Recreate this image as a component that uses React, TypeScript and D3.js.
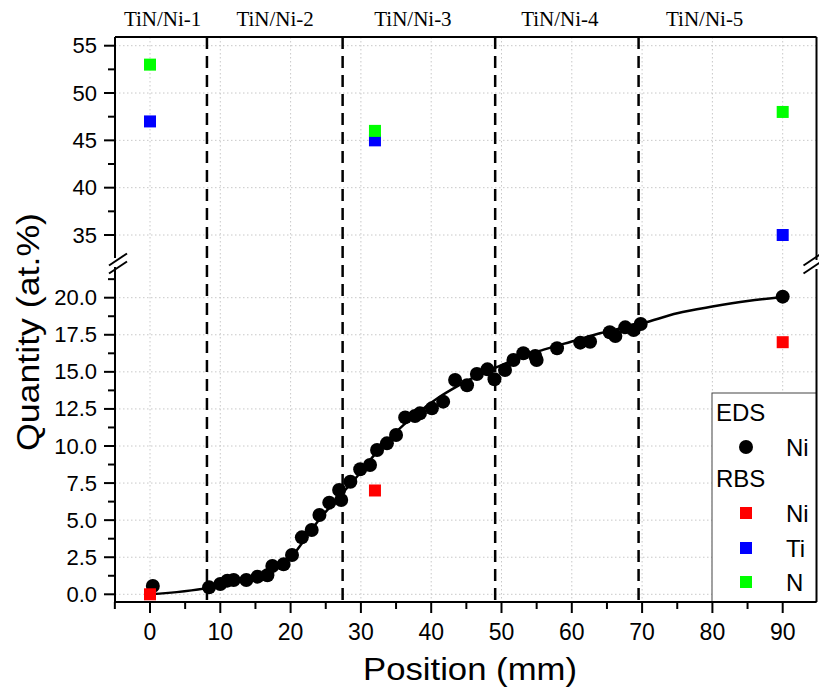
import * as d3 from "d3";

// EDS Ni profile (mm, at.%)
const edsX = [0.4, 8.4, 10.0, 11.0, 11.9, 13.7, 15.3, 16.7, 17.4, 19.0, 20.2, 21.6, 23.0, 24.1, 25.5, 26.9, 27.2, 28.5, 29.9, 31.3, 32.3, 33.7, 35.0, 36.3, 37.7, 38.4, 40.1, 41.7, 43.4, 45.1, 46.5, 48.0, 49.0, 50.5, 51.7, 53.1, 54.8, 55.0, 57.9, 61.2, 62.6, 65.4, 66.2, 67.6, 68.8, 69.8, 90.0];
const edsNi = [0.56, 0.47, 0.69, 0.92, 0.96, 0.96, 1.19, 1.28, 1.91, 2.02, 2.65, 3.84, 4.34, 5.35, 6.18, 7.03, 6.36, 7.59, 8.43, 8.72, 9.73, 10.18, 10.74, 11.93, 12.02, 12.2, 12.54, 12.99, 14.45, 14.1, 14.85, 15.17, 14.5, 15.12, 15.8, 16.25, 16.07, 15.8, 16.59, 16.97, 17.03, 17.67, 17.42, 18.0, 17.82, 18.23, 20.07];

// fitted curve
const fitX = [0, 8.4, 12, 16, 18, 20, 22, 24, 26, 28, 30, 32, 35, 38, 41, 44, 47, 50, 53, 56, 60, 64, 68, 70, 75, 80, 85, 90];
const fitY = [0, 0.45, 0.85, 1.25, 1.7, 2.45, 3.7, 5.0, 6.1, 7.15, 8.25, 9.45, 10.95, 12.2, 13.25, 14.1, 14.85, 15.45, 16.05, 16.5, 17.05, 17.6, 18.05, 18.27, 18.95, 19.4, 19.78, 20.05];

// RBS
const rbsX = [0, 32, 90];
const rbsNi = [0, 7, 17];
const rbsTi = [47, 45, 35];
const rbsN = [53, 46, 48];

// sample boundaries and names
const boundaries = [8.1, 27.4, 49.1, 69.5];
const sampleNames = ["TiN/Ni-1", "TiN/Ni-2", "TiN/Ni-3", "TiN/Ni-4", "TiN/Ni-5"];
const sampleLabelX = [1.8, 17.8, 37.4, 58.3, 78.9];

const xTicks = [0, 10, 20, 30, 40, 50, 60, 70, 80, 90];
const xMinor = [-5, 5, 15, 25, 35, 45, 55, 65, 75, 85];
const yTopTicks = [35, 40, 45, 50, 55];
const yTopMinor = [37.5, 42.5, 47.5, 52.5];
const yLowTicks = [0, 2.5, 5, 7.5, 10, 12.5, 15, 17.5, 20];
const yLowMinor = [1.25, 3.75, 6.25, 8.75, 11.25, 13.75, 16.25, 18.75, 21.25];

const W = 819;
const H = 693;
const left = 115;
const right = 816.5;
const top = 37;
const bottom = 602;
const topSegBottom = 258;
const lowSegTop = 267;

const RED = "#ff0000";
const BLUE = "#0000ff";
const GREEN = "#00ff00";

export default function App() {
  const x = d3.scaleLinear().domain([-5, 95]).range([114.85, 817.85]);
  const yTop = d3.scaleLinear().domain([35, 55]).range([235, 45.7]);
  const yLow = d3.scaleLinear().domain([0, 20]).range([594.3, 297.7]);

  const fitPts: [number, number][] = fitX.map((v, i) => [v, fitY[i]]);
  const line = d3
    .line<[number, number]>()
    .x((d) => x(d[0]))
    .y((d) => yLow(d[1]))
    .curve(d3.curveMonotoneX);

  const sans = "'Liberation Sans', Arial, sans-serif";
  const serif = "'Liberation Serif', 'Times New Roman', serif";
  const grid = { stroke: "#c8c8c8", strokeWidth: 1, strokeDasharray: "1.5,2.5" };
  const sq = 12;

  const slashes = (cx: number) => (
    <g stroke="#000" strokeWidth={2}>
      <line x1={cx - 9} y1={265.5} x2={cx + 9} y2={253.5} />
      <line x1={cx - 9} y1={273.5} x2={cx + 9} y2={261.5} />
    </g>
  );

  return (
    <svg width={W} height={H} style={{ position: "absolute", left: 0, top: 0, background: "#fff" }}>
      {/* grid */}
      {xTicks.map((t) => (
        <line key={"gx" + t} x1={x(t)} x2={x(t)} y1={top} y2={bottom} {...grid} />
      ))}
      {yTopTicks.map((t) => (
        <line key={"gt" + t} x1={left} x2={right} y1={yTop(t)} y2={yTop(t)} {...grid} />
      ))}
      {yLowTicks.map((t) => (
        <line key={"gl" + t} x1={left} x2={right} y1={yLow(t)} y2={yLow(t)} {...grid} />
      ))}

      {/* sample boundaries */}
      {boundaries.map((b) => (
        <line key={"b" + b} x1={x(b)} x2={x(b)} y1={top} y2={bottom} stroke="#000" strokeWidth={2.5} strokeDasharray="12,7" />
      ))}

      {/* fit curve */}
      <path d={line(fitPts) || ""} fill="none" stroke="#000" strokeWidth={2.5} />

      {/* EDS points */}
      {edsX.map((v, i) => (
        <circle key={"e" + i} cx={x(v)} cy={yLow(edsNi[i])} r={7} fill="#000" />
      ))}

      {/* RBS squares */}
      {rbsX.map((v, i) => (
        <g key={"r" + i}>
          <rect x={x(v) - sq / 2} y={yLow(rbsNi[i]) - sq / 2} width={sq} height={sq} fill={RED} />
          <rect x={x(v) - sq / 2} y={yTop(rbsTi[i]) - sq / 2} width={sq} height={sq} fill={BLUE} />
          <rect x={x(v) - sq / 2} y={yTop(rbsN[i]) - sq / 2} width={sq} height={sq} fill={GREEN} />
        </g>
      ))}

      {/* legend */}
      <rect x={712} y={393} width={right - 712} height={bottom - 393} fill="#fff" stroke="#444" strokeWidth={1} />
      <g fontFamily={sans} fontSize={24} fill="#000" dominantBaseline="central">
        <text x={716} y={412}>EDS</text>
        <circle cx={746} cy={447} r={7} fill="#000" />
        <text x={786} y={447}>Ni</text>
        <text x={716} y={478}>RBS</text>
        <rect x={740} y={507} width={sq} height={sq} fill={RED} />
        <text x={786} y={513}>Ni</text>
        <rect x={740} y={542} width={sq} height={sq} fill={BLUE} />
        <text x={786} y={548}>Ti</text>
        <rect x={740} y={576} width={sq} height={sq} fill={GREEN} />
        <text x={786} y={582}>N</text>
      </g>

      {/* frame */}
      <g stroke="#000" strokeWidth={2} fill="none">
        <line x1={left} x2={right} y1={top} y2={top} />
        <line x1={left} x2={right} y1={bottom} y2={bottom} />
        <line x1={left} x2={left} y1={top} y2={topSegBottom} />
        <line x1={left} x2={left} y1={lowSegTop} y2={bottom + 1} />
        <line x1={right} x2={right} y1={top} y2={topSegBottom + 2} />
        <line x1={right} x2={right} y1={lowSegTop + 2} y2={bottom} />
      </g>
      {slashes(left + 3)}
      {slashes(right - 4)}

      {/* ticks */}
      <g stroke="#000" strokeWidth={2}>
        {yTopTicks.map((t) => (
          <line key={"ytt" + t} x1={left - 11} x2={left} y1={yTop(t)} y2={yTop(t)} />
        ))}
        {yTopMinor.map((t) => (
          <line key={"ytm" + t} x1={left - 7} x2={left} y1={yTop(t)} y2={yTop(t)} />
        ))}
        {yLowTicks.map((t) => (
          <line key={"ylt" + t} x1={left - 11} x2={left} y1={yLow(t)} y2={yLow(t)} />
        ))}
        {yLowMinor.map((t) => (
          <line key={"ylm" + t} x1={left - 7} x2={left} y1={yLow(t)} y2={yLow(t)} />
        ))}
        {xTicks.map((t) => (
          <line key={"xt" + t} x1={x(t)} x2={x(t)} y1={bottom} y2={bottom + 11} />
        ))}
        {xMinor.map((t) => (
          <line key={"xm" + t} x1={x(t)} x2={x(t)} y1={bottom} y2={bottom + 7} />
        ))}
      </g>
      <g fontFamily={sans} fontSize={22} fill="#000" textAnchor="end" dominantBaseline="central">
        {yTopTicks.map((t) => (
          <text key={"ytl" + t} x={97} y={yTop(t)}>{t}</text>
        ))}
        {yLowTicks.map((t) => (
          <text key={"yll" + t} x={97} y={yLow(t)}>{d3.format(".1f")(t)}</text>
        ))}
      </g>
      <g fontFamily={sans} fontSize={23} fill="#000" textAnchor="middle">
        {xTicks.map((t) => (
          <text key={"xl" + t} x={x(t)} y={640}>{t}</text>
        ))}
      </g>

      {/* titles */}
      <text x={470} y={680} fontFamily={sans} fontSize={32} textAnchor="middle" textLength={214} lengthAdjust="spacingAndGlyphs">Position (mm)</text>
      <text transform="translate(39,332) rotate(-90)" fontFamily={sans} fontSize={31} textAnchor="middle" textLength={238} lengthAdjust="spacingAndGlyphs">Quantity (at.%)</text>

      {/* sample labels */}
      <g fontFamily={serif} fontSize={21} fill="#000" textAnchor="middle">
        {sampleNames.map((s, i) => (
          <text key={s} x={x(sampleLabelX[i])} y={26}>{s}</text>
        ))}
      </g>
    </svg>
  );
}
